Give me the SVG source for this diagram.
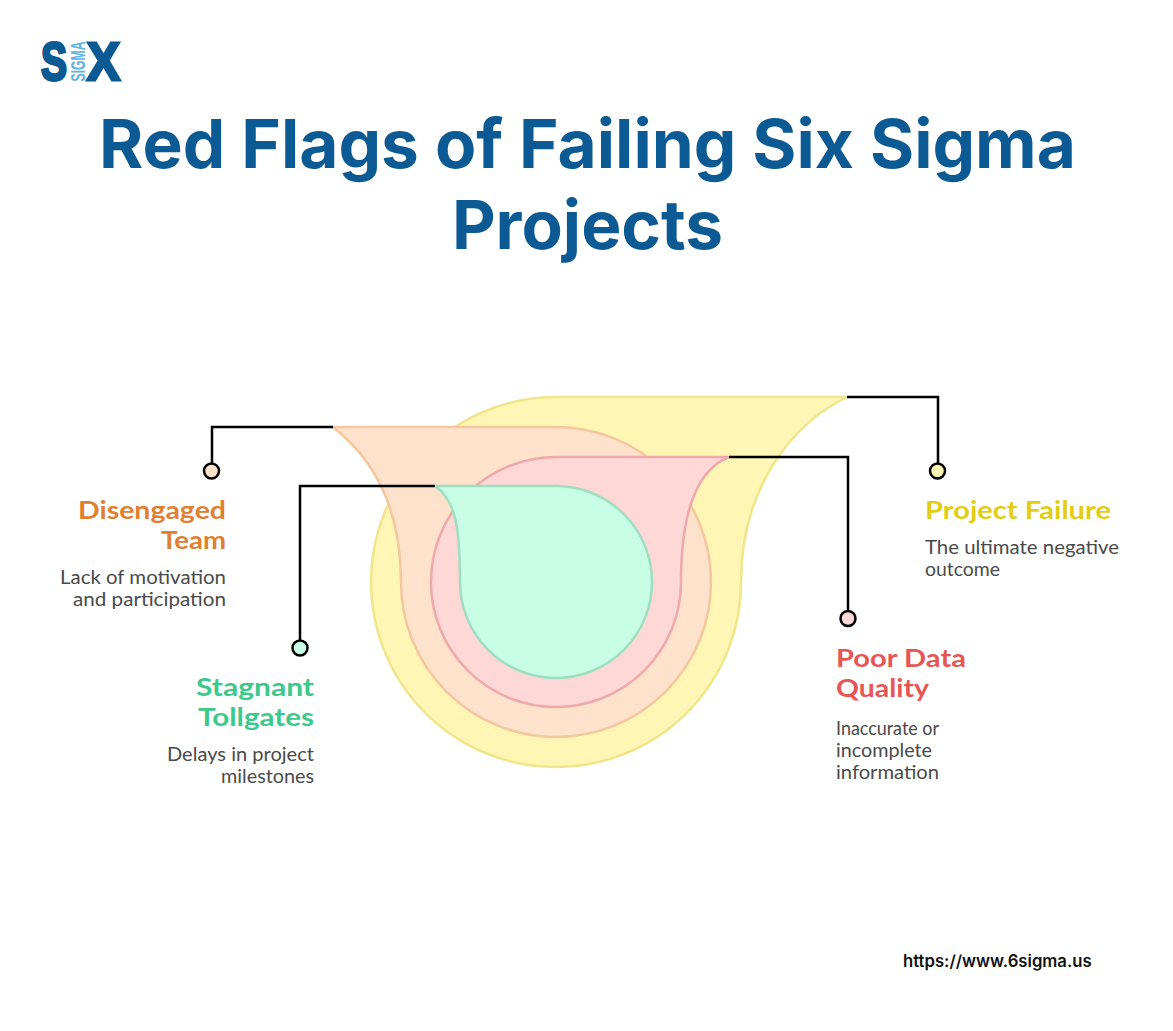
<svg xmlns="http://www.w3.org/2000/svg" width="1173" height="1031" viewBox="0 0 1173 1031">
<style>
.title{font:700 67.500px Inter,"Liberation Sans",sans-serif;fill:#0b5a94;text-anchor:middle}
.head{font:700 25px Lato,"Noto Sans",sans-serif}
.desc{font:400 18.500px Lato,"Noto Sans",sans-serif;fill:#4a4a4a}
.end{text-anchor:end}
.line{fill:none;stroke:#000;stroke-width:2.500}
.dot{stroke:#000;stroke-width:2.500}
.shape{stroke-width:2.500}
.logo{font-family:"Liberation Sans",sans-serif;font-weight:700;fill:#0b5a94;stroke:#0b5a94;stroke-width:3}
</style>
<rect width="1173" height="1031" fill="#fff"/>
<g id="logo">
<text class="logo" x="41" y="79.500" font-size="53" textLength="26" lengthAdjust="spacingAndGlyphs">S</text>
<text transform="translate(84.500,81.500) rotate(-90)" font-family="Liberation Sans,sans-serif" font-weight="700" font-size="20" fill="#62b2e4" textLength="40" lengthAdjust="spacingAndGlyphs">SIGMA</text>
<text class="logo" x="87" y="79.500" font-size="54" textLength="33" lengthAdjust="spacingAndGlyphs">X</text>
</g>
<g id="title">
<text class="title" x="587.500" y="168">Red Flags of Failing Six Sigma</text>
<text class="title" x="587.500" y="249">Projects</text>
</g>
<g id="node-project-failure">
<path class="shape" fill="#fff6b5" stroke="#f1e58c" d="M847 397H556A185 185 0 1 0 741 582C741 490 790 425 847 397Z"/>
</g>
<g id="node-disengaged-team">
<path class="shape" fill="#fee2cb" stroke="#f5c79f" d="M333 427H556A155 155 0 1 1 401 582C401 510 375 460 333 427Z"/>
</g>
<g id="node-poor-data-quality">
<path class="shape" fill="#fed7d7" stroke="#eeaaaa" d="M729 457H556A125 125 0 1 0 681 582C681 525 692 472 729 457Z"/>
</g>
<g id="node-stagnant-tollgates">
<path class="shape" fill="#c8fee6" stroke="#9fdfc0" d="M435 486H556A96 96 0 1 1 460 582C460 530 456 500 435 486Z"/>
</g>
<g id="connectors">
<path class="line" d="M333 427H212V464"/>
<path class="line" d="M847 397H938V464"/>
<path class="line" d="M435 486H300V641"/>
<path class="line" d="M729 457H848V611"/>
</g>
<g id="label-disengaged-team">
<circle class="dot" cx="211.500" cy="471" r="7.500" fill="#fee2cb"/>
<text class="head end" x="226" y="518.500" fill="#e08030" textLength="148" lengthAdjust="spacingAndGlyphs">Disengaged</text>
<text class="head end" x="226" y="548.500" fill="#e08030" textLength="65" lengthAdjust="spacingAndGlyphs">Team</text>
<text class="desc end" x="226" y="583.500" textLength="166" lengthAdjust="spacingAndGlyphs">Lack of motivation</text>
<text class="desc end" x="226" y="605.500" textLength="153" lengthAdjust="spacingAndGlyphs">and participation</text>
</g>
<g id="label-project-failure">
<circle class="dot" cx="937.500" cy="471" r="7.500" fill="#fff6b5"/>
<text class="head" x="925" y="518.500" fill="#e3cd14" textLength="186" lengthAdjust="spacingAndGlyphs">Project Failure</text>
<text class="desc" x="925" y="553.500" textLength="194" lengthAdjust="spacingAndGlyphs">The ultimate negative</text>
<text class="desc" x="925" y="575.500" textLength="75" lengthAdjust="spacingAndGlyphs">outcome</text>
</g>
<g id="label-stagnant-tollgates">
<circle class="dot" cx="300" cy="648" r="7.500" fill="#c8fee6"/>
<text class="head end" x="314" y="695.500" fill="#3cc98a" textLength="118" lengthAdjust="spacingAndGlyphs">Stagnant</text>
<text class="head end" x="314" y="725.500" fill="#3cc98a" textLength="116" lengthAdjust="spacingAndGlyphs">Tollgates</text>
<text class="desc end" x="314" y="760.500" textLength="147" lengthAdjust="spacingAndGlyphs">Delays in project</text>
<text class="desc end" x="314" y="782.500" textLength="93" lengthAdjust="spacingAndGlyphs">milestones</text>
</g>
<g id="label-poor-data-quality">
<circle class="dot" cx="848" cy="618.500" r="7.500" fill="#fed7d7"/>
<text class="head" x="836" y="666.500" fill="#e85555" textLength="130" lengthAdjust="spacingAndGlyphs">Poor Data</text>
<text class="head" x="836" y="696.500" fill="#e85555" textLength="93" lengthAdjust="spacingAndGlyphs">Quality</text>
<text class="desc" x="836" y="734.500" textLength="103" lengthAdjust="spacingAndGlyphs">Inaccurate or</text>
<text class="desc" x="836" y="756.500" textLength="96" lengthAdjust="spacingAndGlyphs">incomplete</text>
<text class="desc" x="836" y="778.500" textLength="103" lengthAdjust="spacingAndGlyphs">information</text>
</g>
<g id="url">
<text x="903" y="967" font-family="Inter,sans-serif" font-weight="600" font-size="16.700" fill="#111">https://www.6sigma.us</text>
</g>
</svg>
